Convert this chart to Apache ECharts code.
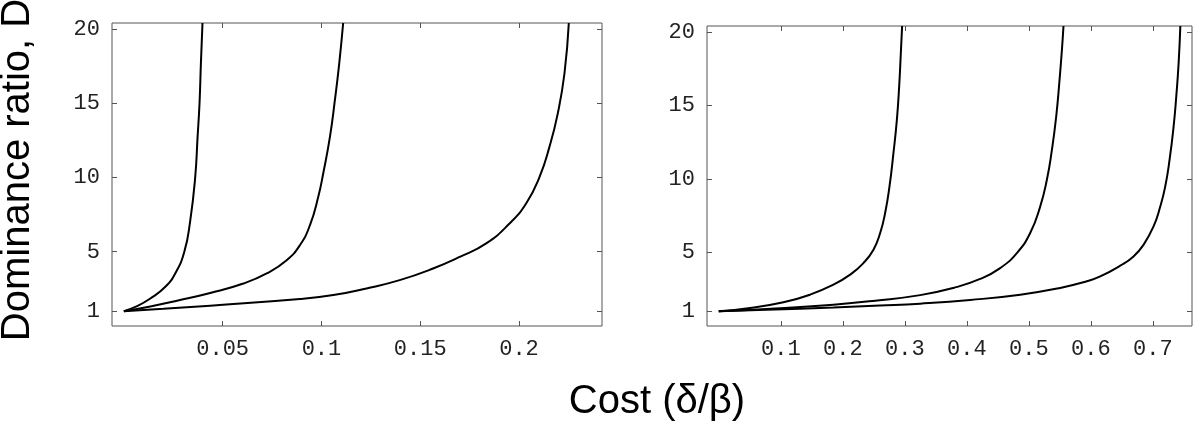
<!DOCTYPE html>
<html>
<head>
<meta charset="utf-8">
<title>Dominance ratio vs cost</title>
<script src="https://cdn.jsdelivr.net/npm/echarts@6/dist/echarts.min.js"></script>
<style>
    html, body { margin: 0; padding: 0; background: #fff; }
    #myChart { width: 1200px; height: 430px; }
</style>
</head>
<body>
<div id="myChart"></div>
<script>
    // left panel, three curves (cost, D)
    let leftCost1 = [0, 0.0067, 0.0134, 0.021, 0.026, 0.0306, 0.0336, 0.0361, 0.0373, 0.0383, 0.039, 0.0398]
    let leftD1 = [1, 1.34, 1.85, 2.64, 3.54, 5.0, 7.1, 10.0, 12.7, 15.0, 17.7, 20.4]

    let leftCost2 = [0, 0.0134, 0.0269, 0.0437, 0.0605, 0.0723, 0.0824, 0.0891, 0.0942, 0.0984, 0.1009, 0.1043, 0.1068, 0.109, 0.111]
    let leftD2 = [1, 1.32, 1.7, 2.22, 2.86, 3.54, 4.43, 5.44, 6.79, 8.7, 10.27, 12.73, 15.2, 17.67, 20.4]

    let leftCost3 = [0, 0.02, 0.0437, 0.0891, 0.106, 0.1228, 0.1396, 0.1565, 0.17, 0.1834, 0.1952, 0.2036, 0.2104, 0.2154, 0.2196, 0.223, 0.2252]
    let leftD3 = [1, 1.16, 1.37, 1.81, 2.08, 2.53, 3.09, 3.87, 4.65, 5.56, 6.9, 8.25, 10.04, 12.06, 14.3, 17.0, 20.4]

    // right panel
    let rightCost1 = [0, 0.0505, 0.1042, 0.1473, 0.1848, 0.2118, 0.2332, 0.2494, 0.2602, 0.2682, 0.2752, 0.2816, 0.2871, 0.2908, 0.2935, 0.2956]
    let rightD1 = [1, 1.23, 1.61, 2.13, 2.81, 3.49, 4.28, 5.19, 6.32, 7.68, 9.48, 11.75, 14.0, 16.26, 18.53, 20.4]

    let rightCost2 = [0, 0.0774, 0.1848, 0.2521, 0.3247, 0.3784, 0.4215, 0.4537, 0.4806, 0.5021, 0.5182, 0.529, 0.5371, 0.544, 0.5494, 0.5532, 0.5558]
    let rightD2 = [1, 1.16, 1.45, 1.72, 2.1, 2.59, 3.2, 3.94, 4.96, 6.32, 8.12, 9.94, 11.97, 14.23, 16.72, 18.75, 20.4]

    let rightCost3 = [0, 0.0774, 0.1848, 0.26, 0.3247, 0.4053, 0.486, 0.5505, 0.5935, 0.615, 0.6473, 0.6687, 0.6848, 0.701, 0.7118, 0.7198, 0.7268, 0.7333, 0.7376, 0.7414, 0.7442]
    let rightD3 = [1, 1.1, 1.26, 1.39, 1.52, 1.77, 2.13, 2.59, 3.04, 3.37, 4.1, 4.73, 5.52, 6.77, 8.12, 9.48, 11.29, 13.55, 15.59, 17.85, 20.4]

    // tick labels
    let leftCostTicks = [0.05, 0.1, 0.15, 0.2]
    let rightCostTicks = [0.1, 0.2, 0.3, 0.4, 0.5, 0.6, 0.7]
    let dTicks = [1, 5, 10, 15, 20]

    let frameColor = '#555'
    let tickFont = 'Liberation Mono'

    function pairs(xs, ys) {
        return xs.map(function (x, i) { return [x, ys[i]] })
    }

    // one side of the frame; labels only on bottom / left
    function costAxis(grid, pos, min, max, ticks) {
        return {
            type: 'value', gridIndex: grid, position: pos, min: min, max: max,
            axisLine: {show: false, onZero: false},
            splitLine: {show: false},
            axisTick: {show: true, inside: true, length: 5, customValues: ticks, lineStyle: {color: frameColor}},
            axisLabel: {
                show: pos === 'bottom', customValues: ticks, margin: 12,
                color: '#222', fontFamily: tickFont, fontSize: 22,
                formatter: function (v) { return String(v) }
            }
        }
    }

    function dAxis(grid, pos) {
        return {
            type: 'value', gridIndex: grid, position: pos, min: 0, max: 20.4,
            axisLine: {show: false, onZero: false},
            splitLine: {show: false},
            axisTick: {show: true, inside: true, length: 5, customValues: dTicks, lineStyle: {color: frameColor}},
            axisLabel: {
                show: pos === 'left', customValues: dTicks, margin: 12,
                color: '#222', fontFamily: tickFont, fontSize: 22
            }
        }
    }

    function curve(xi, yi, xs, ys) {
        return {
            type: 'line', xAxisIndex: xi, yAxisIndex: yi,
            data: pairs(xs, ys),
            showSymbol: false, smooth: 0.5,
            lineStyle: {color: '#000', width: 2},
            clip: true
        }
    }

    let myChart = echarts.init(document.getElementById('myChart'))

    myChart.setOption({
        animation: false,
        backgroundColor: '#fff',
        grid: [
            {left: 112, top: 23, width: 490, height: 303, show: true, borderColor: frameColor, borderWidth: 1},
            {left: 707, top: 26, width: 485, height: 300, show: true, borderColor: frameColor, borderWidth: 1}
        ],
        xAxis: [
            costAxis(0, 'bottom', -0.006, 0.242, leftCostTicks),
            costAxis(0, 'top', -0.006, 0.242, leftCostTicks),
            costAxis(1, 'bottom', -0.019, 0.763, rightCostTicks),
            costAxis(1, 'top', -0.019, 0.763, rightCostTicks)
        ],
        yAxis: [
            dAxis(0, 'left'),
            dAxis(0, 'right'),
            dAxis(1, 'left'),
            dAxis(1, 'right')
        ],
        series: [
            curve(0, 0, leftCost1, leftD1),
            curve(0, 0, leftCost2, leftD2),
            curve(0, 0, leftCost3, leftD3),
            curve(2, 2, rightCost1, rightD1),
            curve(2, 2, rightCost2, rightD2),
            curve(2, 2, rightCost3, rightD3)
        ],
        graphic: [
            {
                type: 'text', x: 18, y: 170, rotation: Math.PI / 2,
                style: {
                    text: 'Dominance ratio, D', fill: '#000',
                    fontFamily: 'Liberation Sans', fontSize: 40,
                    textAlign: 'center', textVerticalAlign: 'middle',
                    align: 'center', verticalAlign: 'middle'
                }
            },
            {
                type: 'text', x: 657, y: 402,
                style: {
                    text: 'Cost (δ/β)', fill: '#000',
                    fontFamily: 'Liberation Sans', fontSize: 40,
                    textAlign: 'center', textVerticalAlign: 'middle',
                    align: 'center', verticalAlign: 'middle'
                }
            }
        ]
    })
</script>
</body>
</html>
